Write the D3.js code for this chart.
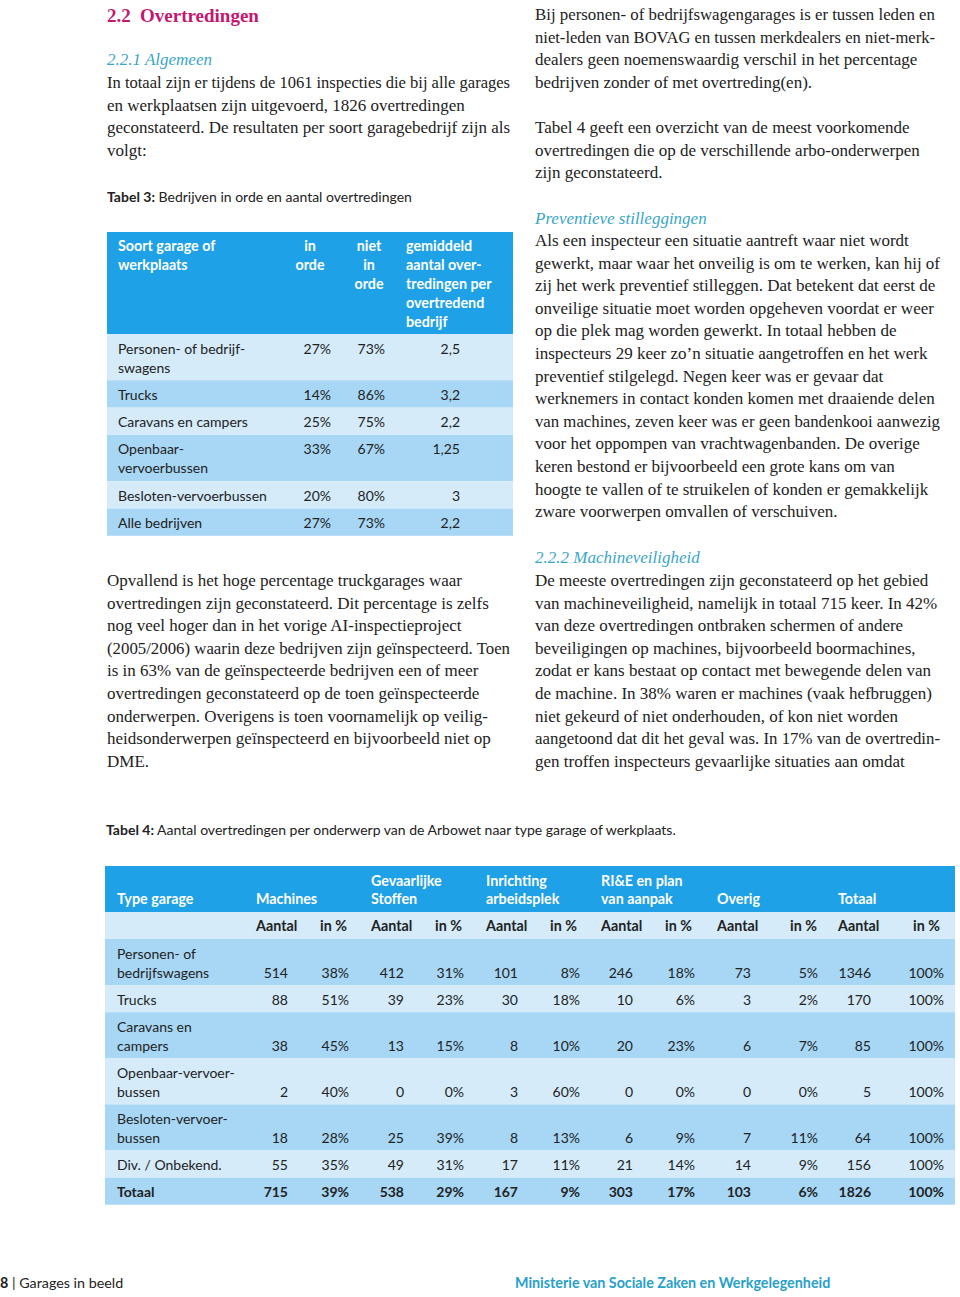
<!DOCTYPE html>
<html><head><meta charset="utf-8">
<script src="https://cdn.jsdelivr.net/npm/d3@7"></script>
<style>
html,body{margin:0;padding:0;background:#fff;}
svg{display:block;}
</style></head>
<body>
<script>
// ---------- DATA ----------
const t3Categories = ["Personen- of bedrijf-|swagens","Trucks","Caravans en campers","Openbaar-|vervoerbussen","Besloten-vervoerbussen","Alle bedrijven"];
const t3InOrde = [27,14,25,33,20,27];
const t3NietInOrde = [73,86,75,67,80,73];
const t3Gemiddeld = ["2,5","3,2","2,2","1,25","3","2,2"];
const t3Headers = ["Soort garage of|werkplaats","in|orde","niet|in|orde","gemiddeld|aantal over-|tredingen per|overtredend|bedrijf"];

const t4Types = ["Personen- of|bedrijfswagens","Trucks","Caravans en|campers","Openbaar-vervoer-|bussen","Besloten-vervoer-|bussen","Div. / Onbekend.","Totaal"];
const t4Groups = ["Machines","Gevaarlijke|Stoffen","Inrichting|arbeidsplek","RI&E en plan|van aanpak","Overig","Totaal"];
const machinesN = [514,88,38,2,18,55,715];
const machinesPct = [38,51,45,40,28,35,39];
const stoffenN = [412,39,13,0,25,49,538];
const stoffenPct = [31,23,15,0,39,31,29];
const inrichtingN = [101,30,8,3,8,17,167];
const inrichtingPct = [8,18,10,60,13,11,9];
const rieN = [246,10,20,0,6,21,303];
const riePct = [18,6,23,0,9,14,17];
const overigN = [73,3,6,0,7,14,103];
const overigPct = [5,2,7,0,11,9,6];
const totaalN = [1346,170,85,5,64,156,1826];
const totaalPct = [100,100,100,100,100,100,100];

const leftP1 = ["In totaal zijn er tijdens de 1061 inspecties die bij alle garages","en werkplaatsen zijn uitgevoerd, 1826 overtredingen","geconstateerd. De resultaten per soort garagebedrijf zijn als","volgt:"];
const leftP2 = ["Opvallend is het hoge percentage truckgarages waar","overtredingen zijn geconstateerd. Dit percentage is zelfs","nog veel hoger dan in het vorige AI-inspectieproject","(2005/2006) waarin deze bedrijven zijn geïnspecteerd. Toen","is in 63% van de geïnspecteerde bedrijven een of meer","overtredingen geconstateerd op de toen geïnspecteerde","onderwerpen. Overigens is toen voornamelijk op veilig-","heidsonderwerpen geïnspecteerd en bijvoorbeeld niet op","DME."];
const rightP1 = ["Bij personen- of bedrijfswagengarages is er tussen leden en","niet-leden van BOVAG en tussen merkdealers en niet-merk-","dealers geen noemenswaardig verschil in het percentage","bedrijven zonder of met overtreding(en)."];
const rightP2 = ["Tabel 4 geeft een overzicht van de meest voorkomende","overtredingen die op de verschillende arbo-onderwerpen","zijn geconstateerd."];
const rightP3 = ["Als een inspecteur een situatie aantreft waar niet wordt","gewerkt, maar waar het onveilig is om te werken, kan hij of","zij het werk preventief stilleggen. Dat betekent dat eerst de","onveilige situatie moet worden opgeheven voordat er weer","op die plek mag worden gewerkt. In totaal hebben de","inspecteurs 29 keer zo’n situatie aangetroffen en het werk","preventief stilgelegd. Negen keer was er gevaar dat","werknemers in contact konden komen met draaiende delen","van machines, zeven keer was er geen bandenkooi aanwezig","voor het oppompen van vrachtwagenbanden. De overige","keren bestond er bijvoorbeeld een grote kans om van","hoogte te vallen of te struikelen of konden er gemakkelijk","zware voorwerpen omvallen of verschuiven."];
const rightP4 = ["De meeste overtredingen zijn geconstateerd op het gebied","van machineveiligheid, namelijk in totaal 715 keer. In 42%","van deze overtredingen ontbraken schermen of andere","beveiligingen op machines, bijvoorbeeld boormachines,","zodat er kans bestaat op contact met bewegende delen van","de machine. In 38% waren er machines (vaak hefbruggen)","niet gekeurd of niet onderhouden, of kon niet worden","aangetoond dat dit het geval was. In 17% van de overtredin-","gen troffen inspecteurs gevaarlijke situaties aan omdat"];

// ---------- STYLE ----------
const W = 960, H = 1297;
const BLUE = "#1ea1e6", LIGHT = "#d5ebfa", MID = "#a7d7f5";
const MAGENTA = "#c4176f", TEAL = "#3aa6c9";
const SERIF = "'Liberation Serif', serif";
const SANS = "Lato, 'Open Sans', sans-serif";
const TXT = "#222";

const svg = d3.select("body").append("svg").attr("width", W).attr("height", H);
svg.append("rect").attr("width", W).attr("height", H).attr("fill", "#fff");

function para(x, y0, lines, lh, maxW) {
  const g = svg.append("g");
  g.selectAll("text").data(lines).join("text")
    .attr("x", x).attr("y", (d, i) => y0 + i * lh)
    .attr("font-family", SERIF).attr("font-size", 17).attr("fill", TXT)
    .text(d => d)
    .each(function () {
      const l = this.getComputedTextLength();
      if (l > maxW) d3.select(this).attr("textLength", maxW).attr("lengthAdjust", "spacingAndGlyphs");
    });
}

// Title
svg.append("text").attr("x", 107).attr("y", 22).attr("font-family", SERIF).attr("font-size", 19)
  .attr("font-weight", "bold").attr("fill", MAGENTA)
  .call(t => { t.append("tspan").text("2.2"); t.append("tspan").attr("x", 140).text("Overtredingen"); });

function subhead(x, y, txt) {
  svg.append("text").attr("x", x).attr("y", y).attr("font-family", SERIF).attr("font-size", 17)
    .attr("font-style", "italic").attr("fill", TEAL).text(txt);
}
subhead(107, 65, "2.2.1 Algemeen");
para(107, 88, leftP1, 22.6, 403);
para(107, 586, leftP2, 22.6, 403);
para(535, 20, rightP1, 22.6, 400);
para(535, 133, rightP2, 22.6, 400);
subhead(535, 224, "Preventieve stilleggingen");
para(535, 246, rightP3, 22.6, 405);
subhead(535, 563, "2.2.2 Machineveiligheid");
para(535, 586, rightP4, 22.6, 405);

// Table captions
function caption(x, y, bold, rest) {
  const t = svg.append("text").attr("x", x).attr("y", y).attr("font-family", SANS).attr("font-size", 14).attr("fill", TXT);
  t.append("tspan").attr("font-weight", "bold").text(bold);
  t.append("tspan").text(rest);
}
caption(107, 202, "Tabel 3:", " Bedrijven in orde en aantal overtredingen");
caption(106, 835, "Tabel 4:", " Aantal overtredingen per onderwerp van de Arbowet naar type garage of werkplaats.");

// ---------- TABLE 3 ----------
{
  const x0 = 107, x1 = 513, top = 232, hdrH = 102, lh = 19;
  const rowLines = t3Categories.map(c => c.split("|").length);
  const rowH = rowLines.map(n => n === 1 ? 27.3 : 46.3);
  const ys = [];
  let acc = top + hdrH;
  rowH.forEach(h => { ys.push(acc); acc += h; });
  svg.append("rect").attr("x", x0).attr("y", top).attr("width", x1 - x0).attr("height", hdrH).attr("fill", BLUE);
  const rows = t3Categories.map((c, i) => ({ c, i, y: ys[i], h: rowH[i] }));
  const g = svg.append("g");
  g.selectAll("rect.row").data(rows).join("rect")
    .attr("x", x0).attr("y", d => d.y).attr("width", x1 - x0).attr("height", d => d.h)
    .attr("fill", d => d.i % 2 === 0 ? LIGHT : MID);
  // header
  const hx = [{x: 118, a: "start"}, {x: 310, a: "middle"}, {x: 369, a: "middle"}, {x: 406, a: "start"}];
  t3Headers.forEach((h, k) => {
    const t = svg.append("text").attr("font-family", SANS).attr("font-size", 14.3).attr("font-weight", "bold")
      .attr("fill", "#fff").attr("text-anchor", hx[k].a);
    h.split("|").forEach((s, j) => t.append("tspan").attr("x", hx[k].x).attr("y", top + 19 + j * lh).text(s));
  });
  const fmtPct = v => v + "%";
  rows.forEach(r => {
    const by = r.y + 19.5;
    const t = svg.append("text").attr("font-family", SANS).attr("font-size", 14).attr("fill", TXT);
    r.c.split("|").forEach((s, j) => t.append("tspan").attr("x", 118).attr("y", by + j * lh).text(s));
    const cell = (x, v) => svg.append("text").attr("x", x).attr("y", by).attr("text-anchor", "end")
      .attr("font-family", SANS).attr("font-size", 14).attr("fill", TXT).text(v);
    cell(331, fmtPct(t3InOrde[r.i]));
    cell(385, fmtPct(t3NietInOrde[r.i]));
    cell(460, t3Gemiddeld[r.i]);
  });
}

// ---------- TABLE 4 ----------
{
  const x0 = 105, x1 = 955, top = 866, hdrH = 46, subH = 27, lh = 19;
  const seriesN = [machinesN, stoffenN, inrichtingN, rieN, overigN, totaalN];
  const seriesP = [machinesPct, stoffenPct, inrichtingPct, riePct, overigPct, totaalPct];
  const aantalLeft = [256, 371, 486, 601, 717, 838];
  const aantalRight = [288, 404, 518, 633, 751, 871];
  const pctLeft = [320, 435, 550, 665, 790, 913];
  const pctRight = [349, 464, 580, 695, 818, 944];

  svg.append("rect").attr("x", x0).attr("y", top).attr("width", x1 - x0).attr("height", hdrH).attr("fill", BLUE);
  svg.append("rect").attr("x", x0).attr("y", top + hdrH).attr("width", x1 - x0).attr("height", subH).attr("fill", LIGHT);

  // header labels (bottom-aligned)
  const hb = top + 38;
  svg.append("text").attr("x", 117).attr("y", hb).attr("font-family", SANS).attr("font-size", 14.3)
    .attr("font-weight", "bold").attr("fill", "#fff").text("Type garage");
  t4Groups.forEach((gname, k) => {
    const parts = gname.split("|");
    const t = svg.append("text").attr("font-family", SANS).attr("font-size", 14.3).attr("font-weight", "bold").attr("fill", "#fff");
    parts.forEach((s, j) => t.append("tspan").attr("x", aantalLeft[k]).attr("y", hb - (parts.length - 1 - j) * 18).text(s));
  });
  const sb = top + hdrH + 19;
  aantalLeft.forEach((x, k) => {
    svg.append("text").attr("x", x).attr("y", sb).attr("font-family", SANS).attr("font-size", 14.3)
      .attr("font-weight", "bold").attr("fill", TXT).text("Aantal");
    svg.append("text").attr("x", pctLeft[k]).attr("y", sb).attr("font-family", SANS).attr("font-size", 14.3)
      .attr("font-weight", "bold").attr("fill", TXT).text("in %");
  });

  const rowLines = t4Types.map(c => c.split("|").length);
  const rowH = rowLines.map(n => n === 1 ? 27.1 : 46.1);
  let acc = top + hdrH + subH;
  const rows = t4Types.map((c, i) => { const r = { c, i, y: acc, h: rowH[i], n: rowLines[i] }; acc += rowH[i]; return r; });
  svg.append("g").selectAll("rect").data(rows).join("rect")
    .attr("x", x0).attr("y", d => d.y).attr("width", x1 - x0).attr("height", d => d.h)
    .attr("fill", d => d.i % 2 === 0 ? MID : LIGHT);

  rows.forEach(r => {
    const isTot = r.i === t4Types.length - 1;
    const fw = isTot ? "bold" : "normal";
    const first = r.y + 19.5;
    const last = first + (r.n - 1) * lh;
    const t = svg.append("text").attr("font-family", SANS).attr("font-size", 14).attr("font-weight", fw).attr("fill", TXT);
    r.c.split("|").forEach((s, j) => t.append("tspan").attr("x", 117).attr("y", first + j * lh).text(s));
    seriesN.forEach((arr, k) => {
      svg.append("text").attr("x", aantalRight[k]).attr("y", last).attr("text-anchor", "end")
        .attr("font-family", SANS).attr("font-size", 14).attr("font-weight", fw).attr("fill", TXT).text(arr[r.i]);
      svg.append("text").attr("x", pctRight[k]).attr("y", last).attr("text-anchor", "end")
        .attr("font-family", SANS).attr("font-size", 14).attr("font-weight", fw).attr("fill", TXT).text(seriesP[k][r.i] + "%");
    });
  });
}

// ---------- FOOTER ----------
{
  const t = svg.append("text").attr("x", 0).attr("y", 1288).attr("font-family", SANS).attr("font-size", 14.3).attr("fill", TXT);
  t.append("tspan").attr("font-weight", "bold").text("8");
  t.append("tspan").text(" | Garages in beeld");
  svg.append("text").attr("x", 515).attr("y", 1288).attr("font-family", SANS).attr("font-size", 14.3)
    .attr("font-weight", "bold").attr("fill", "#27a0cb").text("Ministerie van Sociale Zaken en Werkgelegenheid");
}
</script>
</body></html>
